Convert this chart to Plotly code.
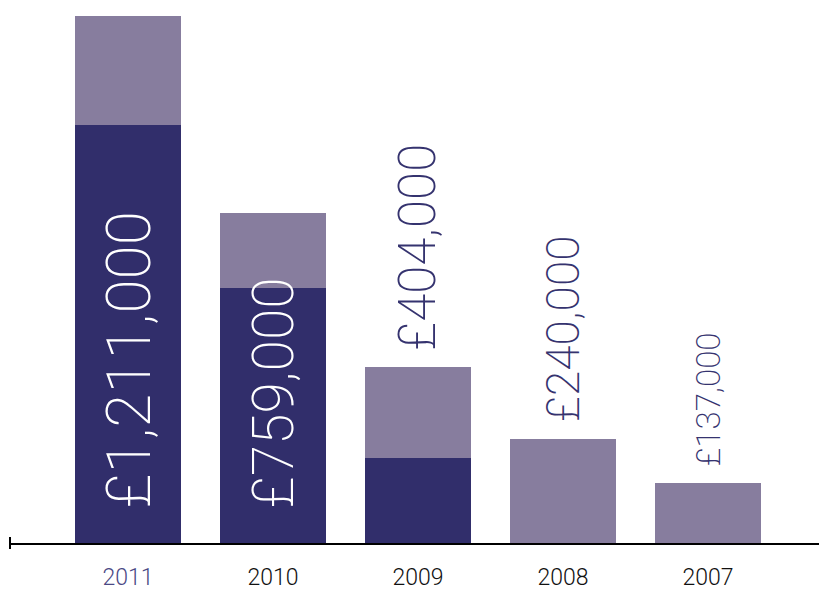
import plotly.graph_objects as go

# Annual totals (GBP thousands), split into the two stacked components
years = ["2011", "2010", "2009", "2008", "2007"]
dark_part = [960, 586, 195, 0, 0]
light_part = [251, 173, 209, 240, 137]
totals = [1211, 759, 404, 240, 137]
value_labels = ["£1,211,000", "£759,000", "£404,000", "£240,000", "£137,000"]
label_sizes = [62, 57, 51, 46, 33]
label_inside = [True, True, False, False, False]

DARK = "#312E6B"
LIGHT = "#877D9E"
TEXT_NAVY = "#35336F"

fig = go.Figure()
fig.add_trace(go.Bar(x=years, y=dark_part, marker=dict(color=DARK, line=dict(width=0)),
                     width=0.73, hoverinfo="skip"))
fig.add_trace(go.Bar(x=years, y=light_part, marker=dict(color=LIGHT, line=dict(width=0)),
                     width=0.73, hoverinfo="skip"))

for i, (tot, txt, size, inside) in enumerate(zip(totals, value_labels, label_sizes, label_inside)):
    fig.add_annotation(x=i, y=0 if inside else tot, xref="x", yref="y",
                       text=txt, textangle=-90, showarrow=False,
                       xanchor="center", yanchor="bottom",
                       yshift=32 if inside else 15,
                       font=dict(family="Roboto", size=size, weight=200,
                                 color="white" if inside else TEXT_NAVY))

tick_text = ['<span style="color:#4B4985">2011</span>'] + years[1:]

fig.update_layout(
    barmode="stack",
    bargap=0.27,
    showlegend=False,
    width=819, height=590,
    margin=dict(l=10, r=0, t=0, b=47),
    paper_bgcolor="white",
    plot_bgcolor="white",
    xaxis=dict(type="category", range=[-0.814, 4.766], showline=True, linecolor="black",
               linewidth=2, showgrid=False, zeroline=False, ticks="",
               tickvals=years, ticktext=tick_text, ticklabelstandoff=12,
               tickfont=dict(family="Roboto", size=23, color="#111111", weight=300),
               automargin=False, fixedrange=True),
    yaxis=dict(range=[0, 1247.8], visible=False, showgrid=False, zeroline=False,
               automargin=False, fixedrange=True),
    shapes=[dict(type="line", xref="paper", yref="paper", x0=0, x1=0,
                 y0=-6 / 543, y1=6 / 543, line=dict(color="black", width=2))],
)

fig.write_html("out.html", config={"displayModeBar": False})
